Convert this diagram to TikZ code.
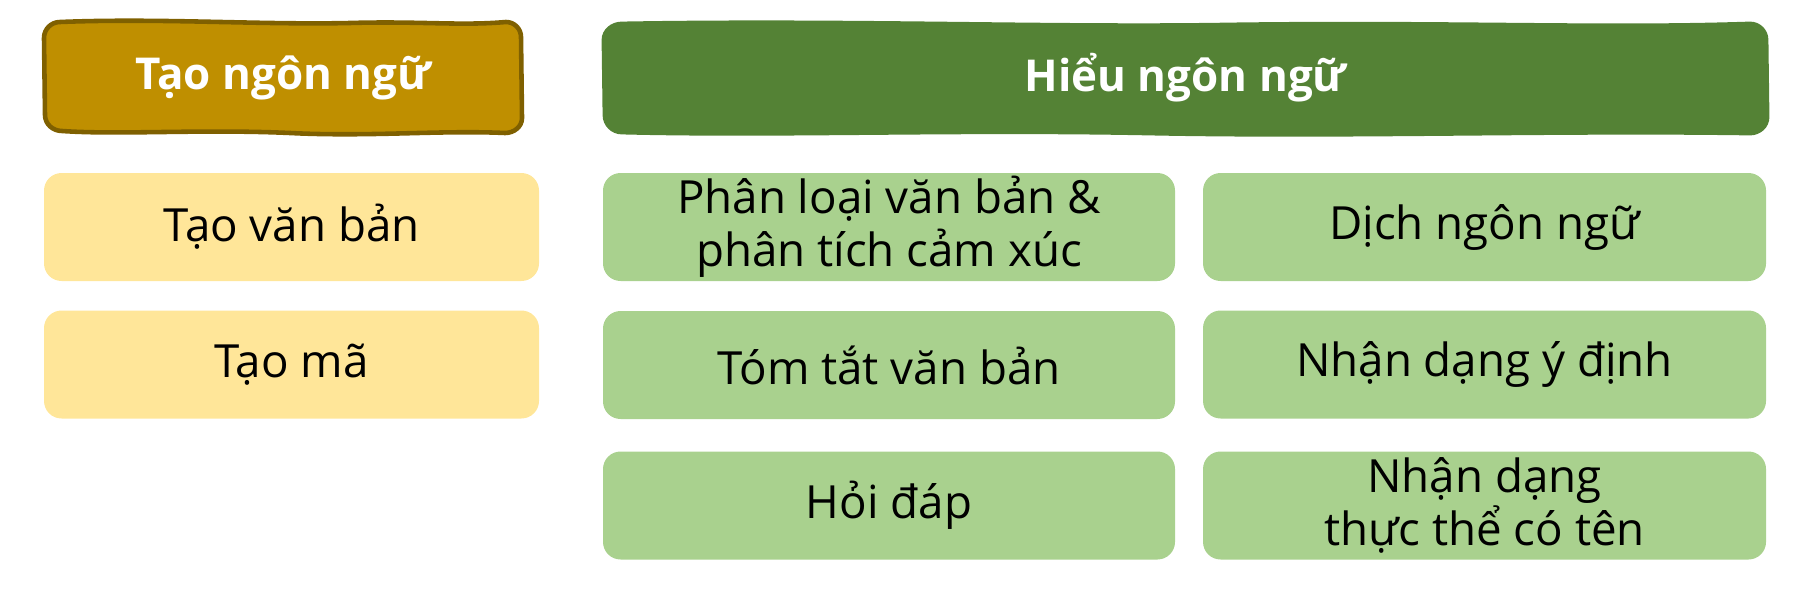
\documentclass[tikz,border=0pt]{standalone}
\usepackage{fontspec}
\setmainfont{Open Sans}

\definecolor{goldHead}{HTML}{BF8F00}
\definecolor{goldLine}{HTML}{7F6000}
\definecolor{goldBox}{HTML}{FFE699}
\definecolor{greenHead}{HTML}{548235}
\definecolor{greenBox}{HTML}{A9D18E}

\tikzset{
  headtext/.style={inner sep=0pt, text=white, font=\bfseries\fontsize{12.5}{15}\selectfont},
  task/.style={rounded corners=5pt, inner sep=0pt, minimum height=1.08cm,
               align=center, font=\fontsize{13}{15.2}\selectfont},
}

\begin{document}
\begin{tikzpicture}
\useasboundingbox (0,0) rectangle (18.08,-5.92);

% hand-drawn header shapes
\draw[fill=goldHead, draw=goldLine, line width=1.3pt]
    (0.44,-0.38) to[out=90,in=180] (0.60,-0.22)
    .. controls (1.6,-0.18) and (2.6,-0.25) .. (3.5,-0.23)
    .. controls (4.2,-0.21) and (4.6,-0.26) .. (5.06,-0.22)
    to[out=0,in=90] (5.21,-0.37) -- (5.22,-1.18)
    to[out=-90,in=0] (5.05,-1.33)
    .. controls (4.4,-1.30) and (3.7,-1.37) .. (2.9,-1.33)
    .. controls (2.0,-1.29) and (1.2,-1.35) .. (0.62,-1.31)
    to[out=180,in=-90] (0.45,-1.15) -- cycle;
\draw[fill=greenHead, draw=greenHead, line width=0.8pt]
    (6.03,-0.40) to[out=90,in=180] (6.22,-0.23)
    .. controls (8.5,-0.19) and (10.5,-0.27) .. (12.3,-0.24)
    .. controls (14.5,-0.21) and (16.0,-0.28) .. (17.50,-0.23)
    to[out=0,in=90] (17.67,-0.40) -- (17.68,-1.17)
    to[out=-90,in=0] (17.50,-1.34)
    .. controls (15.5,-1.31) and (13.5,-1.38) .. (11.5,-1.34)
    .. controls (9.5,-1.30) and (7.8,-1.37) .. (6.22,-1.33)
    to[out=180,in=-90] (6.04,-1.15) -- cycle;

% headers
\node[headtext] (gen) at (2.83,-0.775) {Tạo ngôn ngữ};
\node[headtext] (und) at (11.855,-0.775) {Hiểu ngôn ngữ};

% generation tasks
\begin{scope}[every node/.style={task, fill=goldBox, minimum width=4.95cm}]
    \node (text) at (2.915,-2.27) {Tạo văn bản};
    \node (code) at (2.915,-3.645) {Tạo mã};
\end{scope}

% understanding tasks
\begin{scope}[every node/.style={task, fill=greenBox}]
    \node[minimum width=5.72cm] (cls) at (8.89,-2.27) {Phân loại văn bản \&\\phân tích cảm xúc};
    \node[minimum width=5.72cm] (sum) at (8.89,-3.65) {Tóm tắt văn bản};
    \node[minimum width=5.72cm] (qa) at (8.89,-5.055) {Hỏi đáp};
    \node[minimum width=5.63cm] (trans) at (14.845,-2.27) {Dịch ngôn ngữ};
    \node[minimum width=5.63cm] (intent) at (14.845,-3.645) {Nhận dạng ý định};
    \node[minimum width=5.63cm] (ner) at (14.845,-5.055) {Nhận dạng\\thực thể có tên};
\end{scope}
\end{tikzpicture}
\end{document}
